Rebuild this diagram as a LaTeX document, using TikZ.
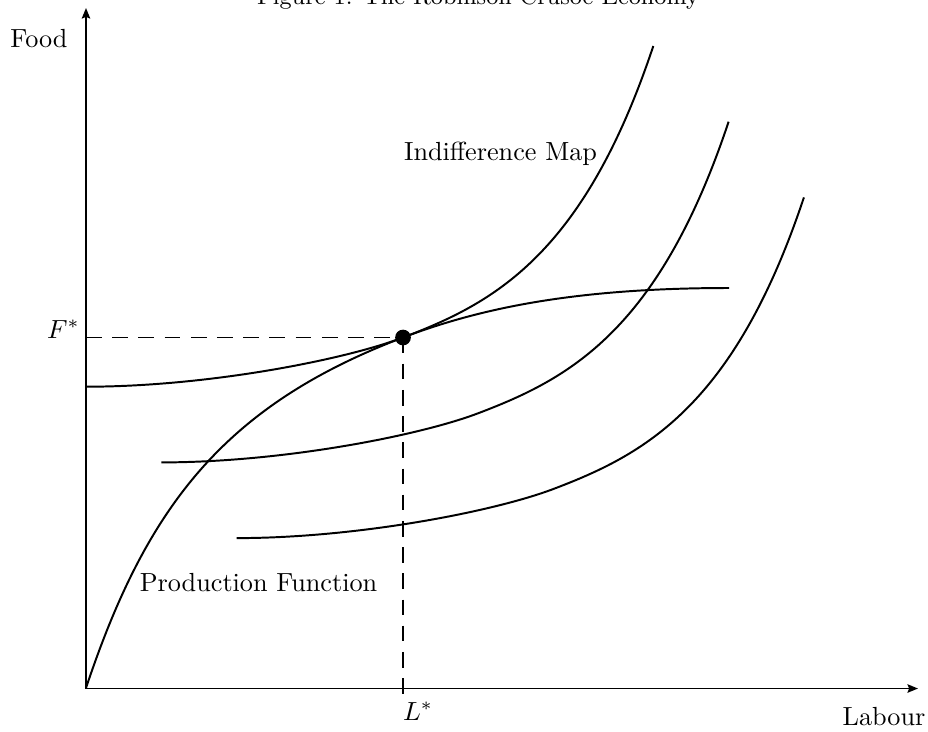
\documentclass[tikz,border=0pt]{standalone}
\usetikzlibrary{arrows.meta}
\begin{document}
\begin{tikzpicture}[x=0.3817pt,y=-0.3817pt,
  curve/.style={line width=0.75pt, line join=round},
  axis/.style={line width=0.75pt, -{Stealth[length=4pt,width=3.2pt,inset=0.6pt]}},
  guide/.style={line width=0.6pt, dash pattern=on 6pt off 4pt},
  lbl/.style={inner sep=0pt, anchor=base}]
\useasboundingbox (0,0) rectangle (928,731);
% axes
\coordinate (O) at (86,688.5);
\coordinate (Ytip) at (86,8);
\coordinate (Xtip) at (918,688.5);
\draw[axis] (O) -- (Ytip);
\draw[axis] (O) -- (Xtip);
% labels
\node[lbl] (title) at (478,4) {\small Figure 1: The Robinson Crusoe Economy};
\node[lbl] (food) at (39,47) {Food};
\node[lbl] (labour) at (884,725) {Labour};
\node[lbl] (Fs) at (63.5,338) {$F^*$};
\node[lbl] (Ls) at (418,720) {$L^*$};
\node[lbl] (pf) at (258.5,591) {Production Function};
\node[lbl] (im) at (500.5,160) {Indifference Map};
% production function
\draw[curve] (86,688) .. controls (146,508) and (223,405.9) .. (403,337.5)
  .. controls (483,307.1) and (579,288) .. (729,288);
% indifference curves
\foreach \s in {0,1,2}{
  \draw[curve, shift={(75.3*\s,75.7*\s)}] (86,386.7) .. controls (206,386.7) and (343,360.3) .. (403,337.5)
    .. controls (493,303.3) and (583.3,256) .. (653.3,46);
}
% equilibrium
\node[circle, fill, inner sep=0pt, minimum size=6pt] (E) at (403,337.5) {};
\coordinate (Fax) at (86,337.5);
\coordinate (Lax) at (403,694);
\draw[guide] (Fax) -- (E.center);
\draw[guide] (E.center) -- (Lax);
\end{tikzpicture}
\end{document}
